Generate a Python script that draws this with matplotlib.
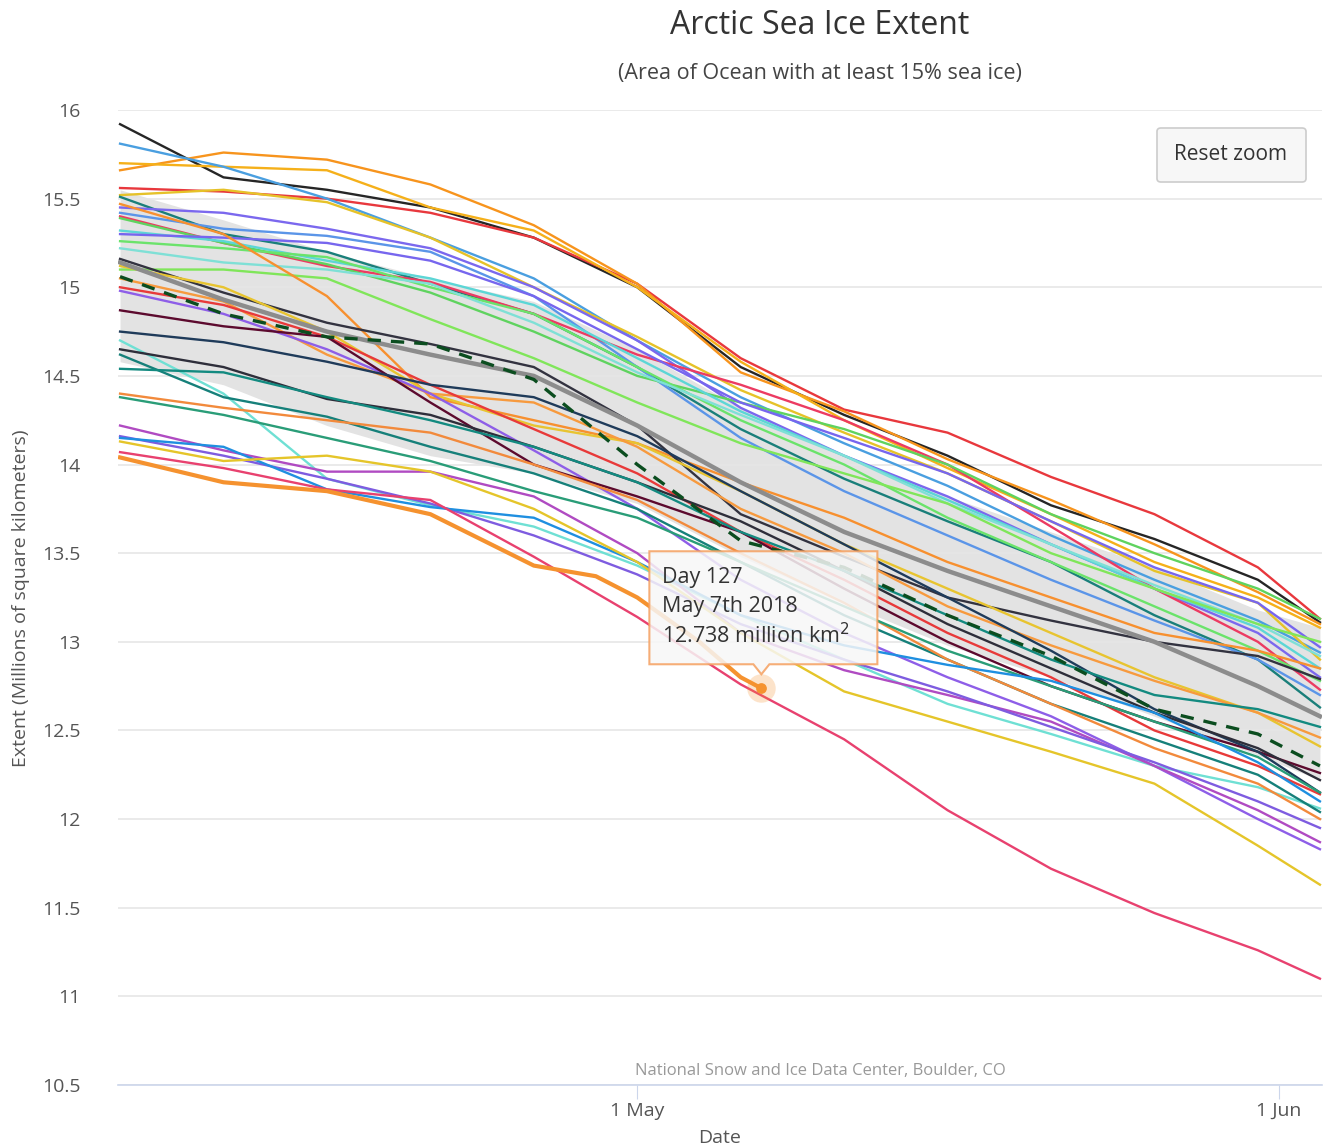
import matplotlib
matplotlib.use("Agg")
import matplotlib.pyplot as plt
from matplotlib.patches import Polygon, FancyBboxPatch

plt.rcParams['font.family'] = ['Open Sans', 'DejaVu Sans']

# sample days (day of year), Apr 6 .. Jun 3
days = [96, 101, 106, 111, 116, 121, 126, 131, 136, 141, 146, 151, 154]

# extent, millions of km2
black_top = [15.92, 15.62, 15.55, 15.45, 15.28, 15.00, 14.55, 14.28, 14.05, 13.77, 13.58, 13.35, 13.11]
red_top = [15.56, 15.54, 15.50, 15.42, 15.28, 15.02, 14.60, 14.31, 14.18, 13.93, 13.72, 13.42, 13.13]
orange_bump = [15.66, 15.76, 15.72, 15.58, 15.35, 15.02, 14.52, 14.30, 14.03, 13.80, 13.55, 13.28, 13.10]
amber_top = [15.70, 15.68, 15.66, 15.45, 15.32, 15.00, 14.58, 14.25, 13.98, 13.72, 13.45, 13.25, 13.08]
light_blue = [15.81, 15.68, 15.50, 15.28, 15.05, 14.70, 14.38, 14.12, 13.88, 13.60, 13.35, 13.12, 12.94]
yellow_top = [15.52, 15.55, 15.48, 15.28, 15.00, 14.72, 14.42, 14.18, 13.95, 13.68, 13.40, 13.22, 12.90]
teal_dark = [15.51, 15.30, 15.20, 15.02, 14.85, 14.55, 14.20, 13.92, 13.68, 13.45, 13.15, 12.90, 12.63]
purple_top = [15.45, 15.42, 15.33, 15.22, 15.00, 14.70, 14.32, 14.05, 13.82, 13.55, 13.30, 13.05, 12.80]
blue_mid = [15.42, 15.33, 15.29, 15.20, 14.95, 14.55, 14.15, 13.85, 13.60, 13.35, 13.12, 12.90, 12.70]
red_mid = [15.40, 15.25, 15.12, 15.03, 14.85, 14.62, 14.45, 14.25, 14.00, 13.65, 13.30, 13.00, 12.73]
green_a = [15.39, 15.25, 15.13, 14.97, 14.75, 14.50, 14.35, 14.20, 14.00, 13.72, 13.50, 13.30, 13.13]
cyan_a = [15.32, 15.26, 15.15, 15.05, 14.90, 14.60, 14.30, 14.05, 13.80, 13.55, 13.30, 13.08, 12.85]
green_b = [15.26, 15.22, 15.17, 15.00, 14.85, 14.55, 14.25, 14.00, 13.70, 13.45, 13.20, 12.95, 12.78]
cyan_b = [15.22, 15.14, 15.10, 15.02, 14.80, 14.52, 14.28, 14.05, 13.78, 13.55, 13.32, 13.10, 12.92]
purple_c = [15.30, 15.28, 15.25, 15.15, 14.95, 14.65, 14.35, 14.15, 13.95, 13.68, 13.42, 13.22, 12.97]
green_c = [15.10, 15.10, 15.05, 14.82, 14.60, 14.35, 14.12, 13.95, 13.78, 13.50, 13.30, 13.10, 13.00]
orange_c = [15.47, 15.30, 14.95, 14.38, 14.25, 14.12, 13.90, 13.70, 13.45, 13.25, 13.05, 12.95, 12.85]
black_mid = [15.16, 14.97, 14.80, 14.68, 14.55, 14.22, 13.72, 13.48, 13.25, 13.12, 13.00, 12.92, 12.79]
yellow_mid = [15.12, 15.00, 14.75, 14.40, 14.22, 14.12, 13.85, 13.55, 13.30, 13.05, 12.80, 12.60, 12.41]
orange_mid = [15.05, 14.92, 14.62, 14.40, 14.35, 14.10, 13.75, 13.50, 13.20, 12.98, 12.78, 12.60, 12.46]
red_b = [15.00, 14.90, 14.72, 14.45, 14.20, 13.95, 13.62, 13.35, 13.05, 12.80, 12.50, 12.30, 12.14]
purple_b = [14.98, 14.85, 14.65, 14.40, 14.08, 13.75, 13.35, 13.05, 12.80, 12.58, 12.30, 12.00, 11.83]
maroon = [14.87, 14.78, 14.72, 14.35, 14.00, 13.82, 13.62, 13.30, 13.00, 12.75, 12.55, 12.38, 12.26]
navy = [14.75, 14.69, 14.58, 14.45, 14.38, 14.16, 13.85, 13.55, 13.25, 12.95, 12.62, 12.38, 12.15]
cyan_light = [14.70, 14.40, 13.92, 13.77, 13.65, 13.43, 13.15, 12.90, 12.65, 12.48, 12.30, 12.18, 12.06]
black_low = [14.65, 14.55, 14.37, 14.28, 14.10, 13.90, 13.68, 13.40, 13.10, 12.85, 12.60, 12.40, 12.22]
teal_a = [14.62, 14.38, 14.27, 14.10, 13.95, 13.75, 13.45, 13.15, 12.90, 12.65, 12.45, 12.25, 12.04]
teal_b = [14.54, 14.52, 14.38, 14.25, 14.10, 13.90, 13.62, 13.40, 13.15, 12.90, 12.70, 12.62, 12.52]
orange_low = [14.40, 14.32, 14.25, 14.18, 14.00, 13.80, 13.50, 13.22, 12.90, 12.65, 12.40, 12.20, 12.00]
teal_green = [14.38, 14.28, 14.15, 14.02, 13.85, 13.70, 13.45, 13.20, 12.95, 12.75, 12.55, 12.35, 12.15]
magenta = [14.22, 14.08, 13.96, 13.96, 13.82, 13.50, 13.05, 12.84, 12.70, 12.55, 12.30, 12.05, 11.87]
purple_low = [14.16, 14.05, 13.92, 13.78, 13.60, 13.38, 13.10, 12.90, 12.72, 12.52, 12.32, 12.10, 11.95]
blue_low = [14.15, 14.10, 13.86, 13.76, 13.70, 13.45, 13.15, 12.98, 12.87, 12.78, 12.60, 12.32, 12.10]
yellow_low = [14.13, 14.02, 14.05, 13.96, 13.75, 13.45, 13.05, 12.72, 12.55, 12.38, 12.20, 11.85, 11.63]
pink_low = [14.07, 13.98, 13.86, 13.80, 13.48, 13.14, 12.76, 12.45, 12.05, 11.72, 11.47, 11.26, 11.10]

# 1981-2010 median and the grey range around it
median = [15.14, 14.93, 14.75, 14.62, 14.50, 14.22, 13.90, 13.62, 13.40, 13.20, 13.00, 12.75, 12.58]
band_hi = [15.55, 15.38, 15.20, 15.05, 14.92, 14.65, 14.32, 14.05, 13.82, 13.62, 13.42, 13.18, 13.08]
band_lo = [14.58, 14.45, 14.22, 14.05, 13.95, 13.78, 13.48, 13.22, 12.98, 12.80, 12.58, 12.36, 12.22]

# dashed year
dashed_year = [15.06, 14.85, 14.72, 14.68, 14.48, 14.00, 13.57, 13.42, 13.15, 12.92, 12.62, 12.48, 12.30]

# 2018 up to day 127
days_2018 = [96, 101, 106, 111, 116, 119, 121, 124, 126, 127]
ext_2018 = [14.04, 13.90, 13.85, 13.72, 13.43, 13.37, 13.25, 13.00, 12.80, 12.738]

years = [
    (black_top, '#262626'), (red_top, '#e8383d'), (orange_bump, '#f7941d'),
    (amber_top, '#f5b01a'), (light_blue, '#4a9fe0'), (yellow_top, '#e6c229'),
    (teal_dark, '#1a7f7a'), (purple_top, '#7b68ee'), (blue_mid, '#5b95e8'),
    (red_mid, '#ec3b62'), (green_a, '#5fd35f'), (cyan_a, '#5cd6d6'),
    (green_b, '#6be36b'), (cyan_b, '#7fe0d6'), (purple_c, '#7766ee'),
    (green_c, '#80e65a'), (orange_c, '#f7902f'), (black_mid, '#333340'),
    (yellow_mid, '#e8c430'), (orange_mid, '#f79a3e'), (red_b, '#e83a3a'),
    (purple_b, '#8e5ee8'), (maroon, '#5c0a2e'), (navy, '#1f3b5a'),
    (cyan_light, '#6fe0d4'), (black_low, '#2e2e3a'), (teal_a, '#16807a'),
    (teal_b, '#138a80'), (orange_low, '#f28a3c'), (teal_green, '#2a9d78'),
    (magenta, '#b04bc2'), (purple_low, '#7e5ce0'), (blue_low, '#1f8fe0'),
    (yellow_low, '#e5c52a'), (pink_low, '#e8416f'),
]

W, H = 1327, 1148
fig = plt.figure(figsize=(W / 100, H / 100), dpi=100)
ax = fig.add_axes([118 / W, 1 - 1085 / H, (1322 - 118) / W, (1085 - 110) / H])

ax.fill_between(days, band_lo, band_hi, color='#dcdcdc', alpha=0.8, lw=0, zorder=1)

for vals, col in years:
    ax.plot(days, vals, color=col, lw=1.7, zorder=3, solid_joinstyle='round')

ax.plot(days, median, color='#8c8c8c', lw=3.2, zorder=4)
ax.plot(days, dashed_year, color='#0b4d1f', lw=2.4, ls=(0, (4, 3)), zorder=5)
ax.plot(days_2018, ext_2018, color='#f5922f', lw=3.0, zorder=6)

# hovered point
ax.scatter([days_2018[-1]], [ext_2018[-1]], s=420, color='#f5922f', alpha=0.25, lw=0, zorder=7)
ax.scatter([days_2018[-1]], [ext_2018[-1]], s=60, color='#f5922f', lw=0, zorder=8)

ax.set_xlim(95.9, 154.1)
ax.set_ylim(10.5, 16)
ax.set_yticks([10.5, 11, 11.5, 12, 12.5, 13, 13.5, 14, 14.5, 15, 15.5, 16])
ax.set_yticklabels(['10.5', '11', '11.5', '12', '12.5', '13', '13.5', '14', '14.5', '15', '15.5', '16'])
ax.set_xticks([121, 152])
ax.set_xticklabels(['1 May', '1 Jun'])
ax.grid(axis='y', color='#e6e6e6', lw=1.2, zorder=0)
for s in ['top', 'right', 'left']:
    ax.spines[s].set_visible(False)
ax.spines['bottom'].set_color('#ccd6eb')
ax.spines['bottom'].set_linewidth(1.2)
ax.tick_params(axis='y', length=0, pad=27, labelsize=14, labelcolor='#555555')
ax.tick_params(axis='x', length=10, color='#ccd6eb', pad=2, labelsize=14, labelcolor='#555555')

fig.text(720 / W, 1 - 1138 / H, 'Date', ha='center', va='center', fontsize=14, color='#555555')
fig.text(21 / W, 1 - 598 / H, 'Extent (Millions of square kilometers)', rotation=90,
         ha='center', va='center', fontsize=14, color='#555555')

fig.text(820 / W, 1 - 26 / H, 'Arctic Sea Ice Extent', ha='center', va='center', fontsize=23, color='#333333')
fig.text(820 / W, 1 - 74 / H, '(Area of Ocean with at least 15% sea ice)', ha='center', va='center',
         fontsize=15.5, color='#444444')
fig.text(820 / W, 1 - 1071 / H, 'National Snow and Ice Data Center, Boulder, CO', ha='center', va='center',
         fontsize=12, color='#999999')

# Reset zoom button
btn = FancyBboxPatch((1157 / W, 1 - 182 / H), 149 / W, 54 / H,
                     boxstyle='round,pad=0,rounding_size=0.003', transform=fig.transFigure,
                     facecolor='#f7f7f7', edgecolor='#cccccc', lw=1.2, zorder=10)
fig.patches.append(btn)
fig.text(1231 / W, 1 - 154 / H, 'Reset zoom', ha='center', va='center', fontsize=15,
         color='#333333', zorder=11)

# tooltip box anchored on the hovered point
fig.canvas.draw()
px, py = ax.transData.transform((days_2018[-1], ext_2018[-1]))
left, right = px - 112, px + 116
top, bottom = py + 137, py + 24
tip = [(left, top), (right, top), (right, bottom), (px + 8, bottom), (px, bottom - 10),
       (px - 8, bottom), (left, bottom)]
inv = fig.transFigure.inverted()
tip_fig = [inv.transform(p) for p in tip]
fig.patches.append(Polygon(tip_fig, closed=True, transform=fig.transFigure, facecolor='#f7f7f7',
                           alpha=0.85, edgecolor='#f5a060', lw=1.5, zorder=20))
tx, ty = inv.transform((left + 13, top - 26))
lines_tip = ['Day 127', 'May 7th 2018', '12.738 million km$^2$']
for i, t in enumerate(lines_tip):
    fig.text(tx, ty - i * 29 / H, t, ha='left', va='center', fontsize=15.5, color='#333333', zorder=21)

fig.savefig('out.png', dpi=100)
